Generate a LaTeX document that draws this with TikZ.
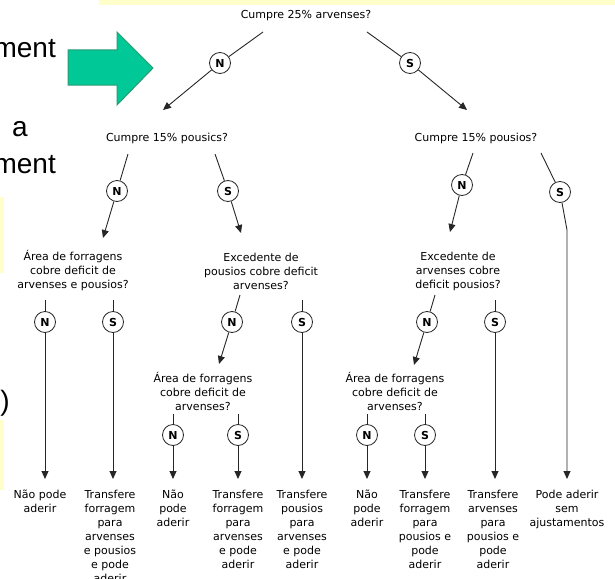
\documentclass[tikz,border=0pt]{standalone}
\usepackage{fontspec}
\usetikzlibrary{arrows.meta}
\newfontfamily\treefont{DejaVu Sans}
\newfontfamily\slidefont{Liberation Sans}
\definecolor{slideyellow}{HTML}{FFFFCC}
\definecolor{arrowgreen}{HTML}{00C896}
\definecolor{arrowedge}{HTML}{2E9A72}
\tikzset{
  ask/.style={font=\treefont\fontsize{11}{14}\selectfont, align=center, inner sep=0pt},
  yesno/.style={circle, draw=black!85, fill=white, line width=0.8pt, minimum size=21pt,
    inner sep=0pt, font=\treefont\bfseries\fontsize{11}{11}\selectfont},
  link/.style={draw=black!85, line width=0.9pt},
  go/.style={link, -{Triangle[length=8pt,width=7pt]}},
  big/.style={font=\slidefont\fontsize{28}{34}\selectfont, inner sep=0pt, anchor=base east}
}
\begin{document}
\begin{tikzpicture}[x=1pt,y=-1pt]
  \useasboundingbox (0,0) rectangle (615,578);
  % slide behind the tree
  \fill[slideyellow] (99,0) rectangle (615,5);
  \fill[slideyellow] (0,197) rectangle (4,273);
  \fill[slideyellow] (0,420) rectangle (4,490);
  \node[big] (ment1) at (56,58) {ment};
  \node[big] (a1txt) at (28,136) {a};
  \node[big] (ment2) at (56,173) {ment};
  \node[big] (paren) at (10,410) {)};
  \draw[arrowedge,fill=arrowgreen,line width=1pt] (68,50) -- (117,50) -- (117,32) -- (153,68)
    -- (117,105) -- (117,85) -- (68,85) -- cycle;

  % questions
  \node[ask] (q25) at (306,16) {Cumpre 25\% arvenses?};
  \node[ask] (q15a) at (167,138) {Cumpre 15\% pousics?};
  \node[ask] (q15b) at (476,138) {Cumpre 15\% pousios?};
  \node[ask] (area1) at (73,271) {Área de forragens\\cobre deficit de\\arvenses e pousios?};
  \node[ask] (exc1) at (261,271) {Excedente de\\pousios cobre deficit\\arvenses?};
  \node[ask] (exc2) at (458,271) {Excedente de\\arvenses cobre\\deficit pousios?};
  \node[ask] (area2) at (203,391) {Área de forragens\\cobre deficit de\\arvenses?};
  \node[ask] (area3) at (395,391) {Área de forragens\\cobre deficit de\\arvenses?};

  % answers
  \node[ask,anchor=north] (leaf1) at (40,490) {Não pode\\aderir};
  \node[ask,anchor=north] (leaf2) at (110,490) {Transfere\\forragem\\para\\arvenses\\e pousios\\e pode\\aderir};
  \node[ask,anchor=north] (leaf3) at (173,490) {Não\\pode\\aderir};
  \node[ask,anchor=north] (leaf4) at (238,490) {Transfere\\forragem\\para\\arvenses\\e pode\\aderir};
  \node[ask,anchor=north] (leaf5) at (302,490) {Transfere\\pousios\\para\\arvenses\\e pode\\aderir};
  \node[ask,anchor=north] (leaf6) at (367,490) {Não\\pode\\aderir};
  \node[ask,anchor=north] (leaf7) at (425,490) {Transfere\\forragem\\para\\pousios e\\pode\\aderir};
  \node[ask,anchor=north] (leaf8) at (493,490) {Transfere\\arvenses\\para\\pousios e\\pode\\aderir};
  \node[ask,anchor=north] (leaf9) at (567,490) {Pode aderir\\sem\\ajustamentos};

  % N / S marks
  \node[yesno] (n25) at (220,63) {N};
  \node[yesno] (s25) at (410,63) {S};
  \node[yesno] (n15a) at (117,191) {N};
  \node[yesno] (s15a) at (228,191) {S};
  \node[yesno] (n15b) at (462,185) {N};
  \node[yesno] (s15b) at (560,192) {S};
  \node[yesno] (narea1) at (45,322) {N};
  \node[yesno] (sarea1) at (113,322) {S};
  \node[yesno] (nexc1) at (232,322) {N};
  \node[yesno] (sexc1) at (302,322) {S};
  \node[yesno] (nexc2) at (427,322) {N};
  \node[yesno] (sexc2) at (495,322) {S};
  \node[yesno] (narea2) at (173,435) {N};
  \node[yesno] (sarea2) at (238,435) {S};
  \node[yesno] (narea3) at (367,435) {N};
  \node[yesno] (sarea3) at (425,435) {S};

  % line ends
  \coordinate (fromn25) at (263,32);
  \coordinate (froms25) at (367,32);
  \coordinate (ton25) at (163,110);
  \coordinate (tos25) at (467,110);
  \coordinate (fromn15a) at (128,154);
  \coordinate (froms15a) at (215,154);
  \coordinate (fromn15b) at (473,153);
  \coordinate (froms15b) at (541,153);
  \coordinate (ton15a) at (103,238);
  \coordinate (tos15a) at (241,233);
  \coordinate (ton15b) at (450,232);
  \coordinate (bend15b) at (567,230);
  \coordinate (fromnarea1) at (45,300);
  \coordinate (fromsarea1) at (113,300);
  \coordinate (fromnexc1) at (240,295);
  \coordinate (fromsexc1) at (302,300);
  \coordinate (fromnexc2) at (435,295);
  \coordinate (fromsexc2) at (495,300);
  \coordinate (tonexc1) at (219,364);
  \coordinate (tonexc2) at (414,365);
  \coordinate (fromnarea2) at (173,414);
  \coordinate (fromsarea2) at (238,414);
  \coordinate (fromnarea3) at (367,414);
  \coordinate (fromsarea3) at (425,414);
  \coordinate (toleaf1) at (45,479);
  \coordinate (toleaf2) at (113,479);
  \coordinate (toleaf3) at (173,479);
  \coordinate (toleaf4) at (238,479);
  \coordinate (toleaf5) at (302,479);
  \coordinate (toleaf6) at (367,479);
  \coordinate (toleaf7) at (425,479);
  \coordinate (toleaf8) at (495,479);
  \coordinate (toleaf9) at (567,479);

  % connectors
  \draw[link] (fromn25) -- (n25);
  \draw[go] (n25) -- (ton25);
  \draw[link] (froms25) -- (s25);
  \draw[go] (s25) -- (tos25);
  \draw[link] (fromn15a) -- (n15a);
  \draw[go] (n15a) -- (ton15a);
  \draw[link] (froms15a) -- (s15a);
  \draw[go] (s15a) -- (tos15a);
  \draw[link] (fromn15b) -- (n15b);
  \draw[go] (n15b) -- (ton15b);
  \draw[link] (froms15b) -- (s15b);
  \draw[go] (s15b) -- (bend15b) -- (toleaf9);
  \draw[link] (fromnarea1) -- (narea1);
  \draw[go] (narea1) -- (toleaf1);
  \draw[link] (fromsarea1) -- (sarea1);
  \draw[go] (sarea1) -- (toleaf2);
  \draw[link] (fromnexc1) -- (nexc1);
  \draw[go] (nexc1) -- (tonexc1);
  \draw[link] (fromsexc1) -- (sexc1);
  \draw[go] (sexc1) -- (toleaf5);
  \draw[link] (fromnexc2) -- (nexc2);
  \draw[go] (nexc2) -- (tonexc2);
  \draw[link] (fromsexc2) -- (sexc2);
  \draw[go] (sexc2) -- (toleaf8);
  \draw[link] (fromnarea2) -- (narea2);
  \draw[go] (narea2) -- (toleaf3);
  \draw[link] (fromsarea2) -- (sarea2);
  \draw[go] (sarea2) -- (toleaf4);
  \draw[link] (fromnarea3) -- (narea3);
  \draw[go] (narea3) -- (toleaf6);
  \draw[link] (fromsarea3) -- (sarea3);
  \draw[go] (sarea3) -- (toleaf7);
\end{tikzpicture}
\end{document}
